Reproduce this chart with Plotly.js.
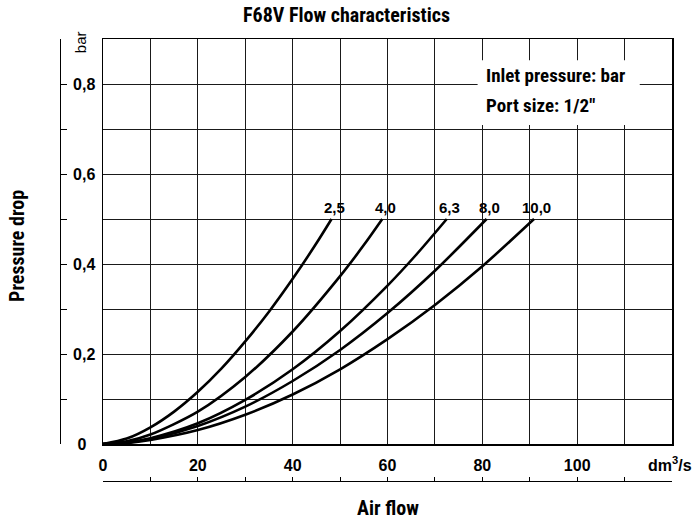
<!DOCTYPE html>
<html>
<head>
<meta charset="utf-8">
<script src="https://cdn.plot.ly/plotly-3.0.1.min.js"></script>
<style>
  html, body { margin: 0; padding: 0; background: #fff; }
  #chart { width: 693px; height: 524px; }
</style>
</head>
<body>
<div id="chart"></div>
<script>
// ---- data ----
const inletPressures = ["2,5", "4,0", "6,3", "8,0", "10,0"];   // bar

const flow25  = [0, 5, 10, 15, 20, 25, 30, 35, 40, 45, 48.2];
const drop25  = [0, 0.012, 0.037, 0.072, 0.116, 0.168, 0.228, 0.294, 0.367, 0.446, 0.5];

const flow40  = [0, 5, 10, 20, 30, 40, 50, 55, 58.9];
const drop40  = [0, 0.006, 0.021, 0.072, 0.149, 0.250, 0.373, 0.442, 0.5];

const flow63  = [0, 5, 10, 20, 30, 40, 50, 60, 66, 72.5];
const drop63  = [0, 0.004, 0.013, 0.046, 0.098, 0.166, 0.251, 0.352, 0.420, 0.5];

const flow80  = [0, 5, 10, 20, 30, 40, 50, 60, 70, 80.9];
const drop80  = [0, 0.003, 0.011, 0.040, 0.083, 0.140, 0.209, 0.291, 0.385, 0.5];

const flow100 = [0, 5, 10, 20, 30, 40, 50, 60, 70, 80, 90.9];
const drop100 = [0, 0.002, 0.009, 0.031, 0.065, 0.110, 0.166, 0.233, 0.309, 0.395, 0.5];

const xTickVals = [0, 10, 20, 30, 40, 50, 60, 70, 80, 90, 100, 110];
const xTickText = ["0", " ", "20", " ", "40", " ", "60", " ", "80", " ", "100", " "];
const yTickVals = [0, 0.1, 0.2, 0.3, 0.4, 0.5, 0.6, 0.7, 0.8];
const yTickText = ["0\u00a0\u00a0", " ", "0,2", " ", "0,4", " ", "0,6", " ", "0,8"];

const chartTitle = "F68V Flow characteristics";
const xTitle = "Air flow";
const yTitle = "Pressure drop";
const xUnit = "dm<sup>3</sup>/s";
const yUnit = "bar";
const infoLines = ["Inlet pressure: bar", "Port size: 1/2\""];

// ---- build ----
const flows = [flow25, flow40, flow63, flow80, flow100];
const drops = [drop25, drop40, drop63, drop80, drop100];

const NARROW = "Roboto Condensed";
const ARIAL = "Arial";

const traces = flows.map((fx, i) => ({
  type: "scatter",
  mode: "lines",
  x: fx,
  y: drops[i],
  name: inletPressures[i],
  line: { color: "#000", width: 2.6, shape: "spline", smoothing: 0.8 },
  hoverinfo: "skip",
  showlegend: false,
  xaxis: "x",
  yaxis: "y"
}));
// helper trace so that the detached outer axes are drawn
traces.push({ type: "scatter", mode: "markers", x: [], y: [], xaxis: "x2", yaxis: "y2",
  showlegend: false, hoverinfo: "skip" });

const annotations = [];
flows.forEach((fx, i) => {
  annotations.push({
    xref: "x", yref: "y",
    x: fx[fx.length - 1] + 0.6, y: drops[i][drops[i].length - 1],
    text: inletPressures[i], showarrow: false,
    xanchor: "center", yanchor: "middle", yshift: 12,
    font: { family: ARIAL, size: 15, color: "#000", weight: "bold" }
  });
});
annotations.push({
  xref: "x", yref: "y", x: 80.4, y: 0.82, text: infoLines[0], showarrow: false,
  xanchor: "left", yanchor: "middle",
  font: { family: NARROW, size: 19, color: "#000", weight: "bold" }
});
annotations.push({
  xref: "x", yref: "y", x: 80.4, y: 0.753, text: infoLines[1], showarrow: false,
  xanchor: "left", yanchor: "middle",
  font: { family: NARROW, size: 19, color: "#000", weight: "bold" }
});
annotations.push({
  xref: "x", yref: "paper", x: 60, y: -0.061, text: xTitle, showarrow: false,
  xanchor: "center", yanchor: "middle",
  font: { family: NARROW, size: 20, color: "#000", weight: "bold" }
});
annotations.push({
  xref: "paper", yref: "y", x: -0.0703, y: 0.44, text: yTitle, showarrow: false,
  textangle: -90, xanchor: "center", yanchor: "middle",
  font: { family: NARROW, size: 20, color: "#000", weight: "bold" }
});
annotations.push({
  xref: "paper", yref: "y", x: 0.0327, y: 0.893, text: yUnit, showarrow: false,
  textangle: -90, xanchor: "center", yanchor: "middle",
  font: { family: ARIAL, size: 15, color: "#000" }
});
annotations.push({
  xref: "x", yref: "paper", x: 114.6, y: 0.0385, text: xUnit, showarrow: false,
  xanchor: "left", yanchor: "middle",
  font: { family: ARIAL, size: 16, color: "#000", weight: "bold" }
});

const layout = {
  width: 693, height: 524,
  margin: { l: 60, r: 21, t: 39, b: 43, pad: 0 },
  paper_bgcolor: "#fff", plot_bgcolor: "#fff",
  title: {
    text: chartTitle, xref: "container", x: 0.5, xanchor: "center",
    yref: "container", y: 1 - 15 / 524, yanchor: "middle",
    font: { family: NARROW, size: 20, color: "#000", weight: "bold" }
  },
  xaxis: {
    domain: [0.0703, 1], range: [0, 120], anchor: "y",
    tickmode: "array", tickvals: xTickVals, ticktext: xTickText,
    ticks: "", showgrid: true, gridcolor: "#1a1a1a", gridwidth: 1,
    showline: true, mirror: true, linecolor: "#000", linewidth: 1.5,
    zeroline: false, ticklabelstandoff: 6,
    tickfont: { family: ARIAL, size: 16, color: "#000", weight: "bold" },
    fixedrange: true
  },
  yaxis: {
    domain: [0.0837, 1], range: [0, 0.9], anchor: "x",
    tickmode: "array", tickvals: yTickVals, ticktext: yTickText,
    ticks: "", showgrid: true, gridcolor: "#1a1a1a", gridwidth: 1,
    showline: true, mirror: true, linecolor: "#000", linewidth: 1.5,
    zeroline: false, ticklabelstandoff: 3,
    tickfont: { family: ARIAL, size: 16, color: "#000", weight: "bold" },
    fixedrange: true
  },
  xaxis2: {
    overlaying: "x", anchor: "free", position: 0, side: "bottom",
    range: [0, 120], tickmode: "array", tickvals: xTickVals,
    ticks: "inside", ticklen: 4, tickwidth: 1, tickcolor: "#000",
    showticklabels: false, showgrid: false, zeroline: false,
    showline: true, linecolor: "#000", linewidth: 1, fixedrange: true
  },
  yaxis2: {
    overlaying: "y", anchor: "free", position: 0, side: "left",
    range: [0, 0.9], tickmode: "array", tickvals: [0, 0.1, 0.2, 0.3, 0.4, 0.5, 0.6, 0.7, 0.8, 0.9],
    ticks: "inside", ticklen: 6, tickwidth: 1, tickcolor: "#000",
    showticklabels: false, showgrid: false, zeroline: false,
    showline: true, linecolor: "#000", linewidth: 1, fixedrange: true
  },
  shapes: [{
    type: "rect", xref: "x", yref: "y", x0: 79, x1: 113.2, y0: 0.709, y1: 0.853,
    fillcolor: "#fff", line: { width: 0 }, layer: "above"
  }],
  annotations: annotations,
  showlegend: false
};

Plotly.newPlot("chart", traces, layout, { displayModeBar: false, staticPlot: true });
</script>
</body>
</html>
